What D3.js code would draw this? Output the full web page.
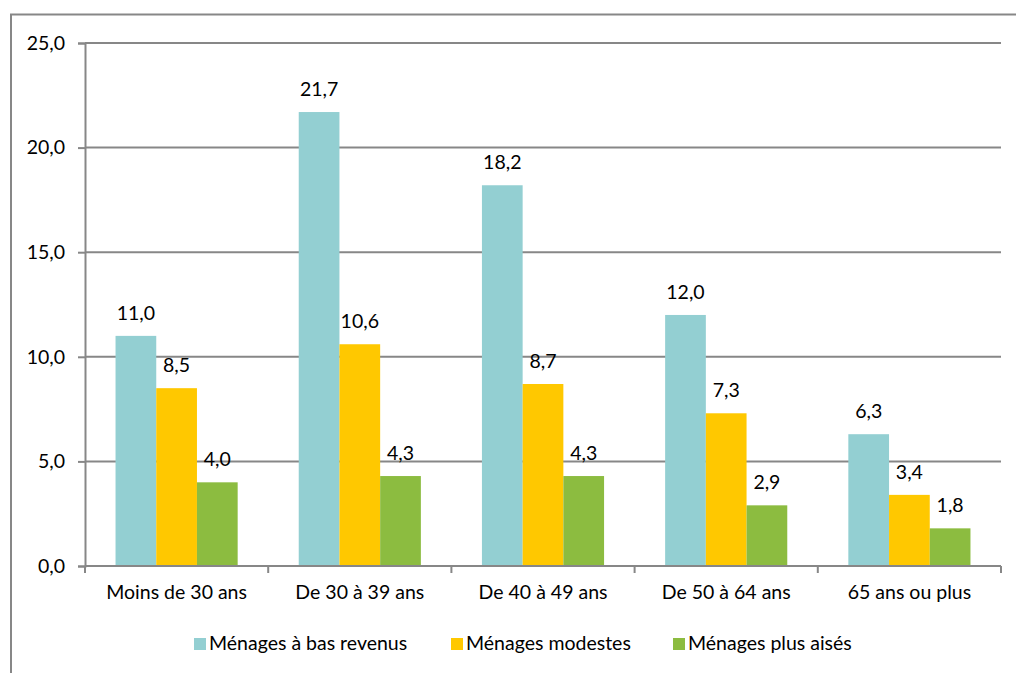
<!DOCTYPE html>
<html>
<head>
<meta charset="utf-8">
<script src="https://cdn.jsdelivr.net/npm/d3@7"></script>
<style>
  html, body { margin: 0; padding: 0; background: #fff; }
  svg text { font-family: Lato, "Open Sans", sans-serif; fill: #000; }
</style>
</head>
<body>
<svg id="chart" width="1016" height="673"></svg>
<script>
// Age groups of the household reference person
const categories = ["Moins de 30 ans", "De 30 à 39 ans", "De 40 à 49 ans", "De 50 à 64 ans", "65 ans ou plus"];
const seriesNames = ["Ménages à bas revenus", "Ménages modestes", "Ménages plus aisés"];
const basRevenus = [11.0, 21.7, 18.2, 12.0, 6.3];
const modestes = [8.5, 10.6, 8.7, 7.3, 3.4];
const plusAises = [4.0, 4.3, 4.3, 2.9, 1.8];
const yTicks = [0, 5, 10, 15, 20, 25];
const colors = ["#93CFD2", "#FFC800", "#8CBC40"];

const seriesValues = [basRevenus, modestes, plusAises];
const fmt = v => d3.format(".1f")(v).replace(".", ",");

const svg = d3.select("#chart");
const plotLeft = 85, plotRight = 1001, plotTop = 43, plotBottom = 566;
const gray = "#878787";
const fontSize = "19.5px";

// outer chart frame
svg.append("rect")
  .attr("x", 11).attr("y", 14.5).attr("width", 1020).attr("height", 700)
  .attr("fill", "none").attr("stroke", gray).attr("stroke-width", 2);

const x0 = d3.scaleBand().domain(categories).range([plotLeft, plotRight]).paddingInner(0).paddingOuter(0);
const x1 = d3.scaleBand().domain(d3.range(3)).range([0, x0.bandwidth()]).paddingInner(0).paddingOuter(0.75);
const y = d3.scaleLinear().domain([0, 25]).range([plotBottom, plotTop]);

// horizontal gridlines
svg.append("g").selectAll("line").data(yTicks.filter(t => t > 0)).join("line")
  .attr("x1", plotLeft).attr("x2", plotRight)
  .attr("y1", d => y(d)).attr("y2", d => y(d))
  .attr("stroke", gray).attr("stroke-width", 2);

// y axis
const yAxis = svg.append("g").attr("transform", `translate(${plotLeft},0)`)
  .call(d3.axisLeft(y).tickValues(yTicks).tickFormat(fmt).tickSize(7).tickPadding(13));
yAxis.attr("font-size", null).attr("font-family", null);
yAxis.select(".domain").attr("stroke", gray).attr("stroke-width", 2);
yAxis.selectAll(".tick line").attr("stroke", gray).attr("stroke-width", 2);
yAxis.selectAll("text").style("font-size", fontSize);

// bars
const groups = svg.append("g").selectAll("g").data(categories).join("g")
  .attr("transform", d => `translate(${x0(d)},0)`);

groups.selectAll("rect").data((d, i) => seriesValues.map((s, k) => ({ k, v: s[i] }))).join("rect")
  .attr("x", d => x1(d.k))
  .attr("width", x1.bandwidth())
  .attr("y", d => y(d.v))
  .attr("height", d => y(0) - y(d.v))
  .attr("fill", d => colors[d.k]);

groups.selectAll("text.val").data((d, i) => seriesValues.map((s, k) => ({ k, v: s[i] }))).join("text")
  .attr("class", "val")
  .attr("x", d => x1(d.k) + x1.bandwidth() / 2)
  .attr("y", d => y(d.v) - 16)
  .attr("text-anchor", "middle")
  .style("font-size", fontSize)
  .text(d => fmt(d.v));

// x axis
const xAxis = svg.append("g").attr("transform", `translate(0,${plotBottom})`)
  .call(d3.axisBottom(x0).tickSize(0).tickPadding(19));
xAxis.attr("font-size", null).attr("font-family", null);
xAxis.select(".domain").remove();
xAxis.selectAll("text").style("font-size", fontSize);
svg.append("line").attr("x1", plotLeft).attr("x2", plotRight).attr("y1", plotBottom).attr("y2", plotBottom)
  .attr("stroke", gray).attr("stroke-width", 2);
svg.append("g").selectAll("line").data(d3.range(categories.length + 1)).join("line")
  .attr("x1", i => plotLeft + i * x0.step()).attr("x2", i => plotLeft + i * x0.step())
  .attr("y1", plotBottom).attr("y2", plotBottom + 7)
  .attr("stroke", gray).attr("stroke-width", 2);

// legend
const legendX = [194, 451, 673];
const legend = svg.append("g").selectAll("g").data(seriesNames).join("g")
  .attr("transform", (d, i) => `translate(${legendX[i]},638)`);
legend.append("rect").attr("width", 12).attr("height", 12).attr("fill", (d, i) => colors[i]);
legend.append("text").attr("x", 15).attr("y", 12).style("font-size", fontSize).text(d => d);
</script>
</body>
</html>
